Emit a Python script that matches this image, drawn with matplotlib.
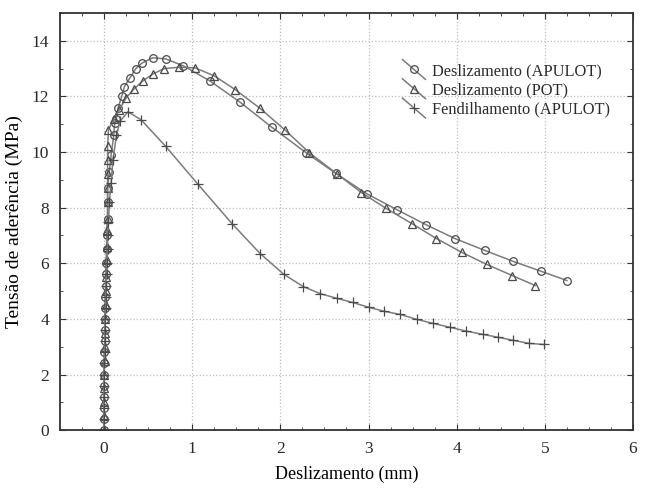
import matplotlib

matplotlib.use("Agg")
import matplotlib.pyplot as plt
from matplotlib.legend_handler import HandlerLine2D
from matplotlib.lines import Line2D
from matplotlib.ticker import MultipleLocator

# --- data ---
apulot_x = [0.00, 0.00, 0.00, 0.00, 0.00, 0.00, 0.00, 0.00, 0.01, 0.01, 0.01, 0.01,
            0.01, 0.02, 0.02, 0.02, 0.03, 0.03, 0.04, 0.04, 0.04, 0.06, 0.08, 0.11,
            0.12, 0.14, 0.16, 0.20, 0.23, 0.29, 0.36, 0.43, 0.55, 0.70, 0.90, 1.20,
            1.54, 1.90, 2.29, 2.63, 2.98, 3.32, 3.65, 3.98, 4.32, 4.64, 4.96, 5.25]
apulot_y = [0.0, 0.4, 0.8, 1.2, 1.6, 2.0, 2.4, 2.8, 3.2, 3.6, 4.0, 4.4,
            4.8, 5.2, 5.6, 6.0, 6.5, 7.0, 7.6, 8.2, 8.7, 9.3, 9.9, 10.6,
            11.05, 11.2, 11.6, 12.0, 12.35, 12.65, 13.0, 13.2, 13.39, 13.35, 13.1, 12.56,
            11.8, 10.9, 9.98, 9.23, 8.5, 7.93, 7.39, 6.89, 6.46, 6.07, 5.71, 5.38]

pot_x = [0.00, 0.00, 0.00, 0.00, 0.00, 0.01, 0.01, 0.01, 0.01, 0.02, 0.02, 0.02,
         0.03, 0.03, 0.03, 0.04, 0.04, 0.04, 0.04, 0.04, 0.04, 0.05, 0.11, 0.17,
         0.25, 0.34, 0.44, 0.55, 0.68, 0.85, 1.03, 1.25, 1.49, 1.77, 2.05, 2.33,
         2.64, 2.92, 3.20, 3.49, 3.77, 4.06, 4.34, 4.63, 4.89]
pot_y = [0.0, 0.5, 1.0, 1.5, 2.0, 2.5, 3.0, 3.5, 4.0, 4.5, 5.0, 5.5,
         6.1, 6.6, 7.2, 7.6, 8.2, 8.7, 9.2, 9.7, 10.2, 10.8, 11.2, 11.5,
         11.95, 12.27, 12.56, 12.8, 13.0, 13.05, 13.03, 12.74, 12.24, 11.57, 10.8, 9.97,
         9.22, 8.54, 7.97, 7.43, 6.89, 6.39, 5.96, 5.56, 5.2]

fend_x = [0.00, 0.00, 0.00, 0.00, 0.00, 0.00, 0.00, 0.01, 0.01, 0.01, 0.01, 0.02,
          0.02, 0.02, 0.03, 0.03, 0.04, 0.04, 0.05, 0.06, 0.08, 0.10, 0.14, 0.18,
          0.27, 0.42, 0.70, 1.06, 1.45, 1.77, 2.04, 2.26, 2.45, 2.64, 2.82, 3.00,
          3.18, 3.36, 3.55, 3.73, 3.92, 4.11, 4.30, 4.47, 4.64, 4.82, 4.99]
fend_y = [0.0, 0.4, 0.8, 1.2, 1.6, 2.0, 2.4, 2.8, 3.2, 3.6, 4.0, 4.4,
          4.8, 5.2, 5.6, 6.0, 6.5, 7.0, 7.5, 8.2, 8.9, 9.7, 10.6, 11.1,
          11.45, 11.16, 10.2, 8.86, 7.43, 6.35, 5.6, 5.16, 4.91, 4.74, 4.59, 4.42,
          4.27, 4.16, 3.98, 3.84, 3.70, 3.56, 3.44, 3.34, 3.23, 3.12, 3.08]

labels = ["Deslizamento (APULOT)", "Deslizamento (POT)", "Fendilhamento (APULOT)"]

plt.rcParams.update(
    {
        "font.family": ["Liberation Serif", "DejaVu Serif"],
        "font.size": 12,
        "text.color": "#2a2a2a",
        "xtick.labelcolor": "#2a2a2a",
        "ytick.labelcolor": "#2a2a2a",
        "axes.edgecolor": "#333333",
        "axes.linewidth": 1.3,
    }
)

LINE_COLOR = "#7c7c7c"
MARK_COLOR = "#4a4a4a"


class SlantHandler(HandlerLine2D):
    """Legend handle drawn as a short diagonal line with the marker in the middle."""

    def create_artists(self, legend, orig_handle, xdescent, ydescent,
                       width, height, fontsize, trans):
        x0, x1 = -xdescent, width - xdescent
        y0, y1 = height - ydescent + 3, -ydescent - 3
        line = Line2D([x0, x1], [y0, y1])
        self.update_prop(line, orig_handle, legend)
        line.set_marker("None")
        mark = Line2D([(x0 + x1) / 2], [(y0 + y1) / 2])
        self.update_prop(mark, orig_handle, legend)
        mark.set_linestyle("None")
        line.set_transform(trans)
        mark.set_transform(trans)
        return [line, mark]


fig = plt.figure(figsize=(6.55, 4.91), dpi=100)
ax = fig.add_axes([0.0916, 0.124, 0.8748, 0.8495])

style = dict(color=LINE_COLOR, linewidth=1.1, markersize=5.5,
             markerfacecolor="none", markeredgecolor=MARK_COLOR, markeredgewidth=0.9)
h1, = ax.plot(apulot_x, apulot_y, marker="o", label=labels[0], **style)
h2, = ax.plot(pot_x, pot_y, marker="^", label=labels[1], **style)
h3, = ax.plot(fend_x, fend_y, marker="+", label=labels[2],
              **{**style, "markersize": 7.5})

ax.set_xlim(-0.5, 6)
ax.set_ylim(0, 15)
ax.xaxis.set_major_locator(MultipleLocator(1))
ax.xaxis.set_minor_locator(MultipleLocator(0.25))
ax.yaxis.set_major_locator(MultipleLocator(2))
ax.yaxis.set_minor_locator(MultipleLocator(1))
ax.tick_params(which="both", direction="in", top=True, right=True,
               color="#333333", labelsize=12.5)
ax.tick_params(which="major", length=4, pad=8)
ax.tick_params(which="minor", length=2)

ax.grid(True, which="major", linestyle=":", color="#bdbdbd", linewidth=0.9)

ax.set_xlabel("Deslizamento (mm)", fontsize=13, labelpad=6)
ax.set_ylabel("Tensão de aderência (MPa)", fontsize=14, labelpad=6)

ax.legend(
    [h1, h2, h3],
    labels,
    handler_map={Line2D: SlantHandler()},
    loc="upper left",
    bbox_to_anchor=(0.572, 0.915),
    frameon=False,
    fontsize=11.8,
    handlelength=1.4,
    handletextpad=0.4,
    labelspacing=0.2,
)

fig.savefig("out.png", dpi=100, facecolor="white")
